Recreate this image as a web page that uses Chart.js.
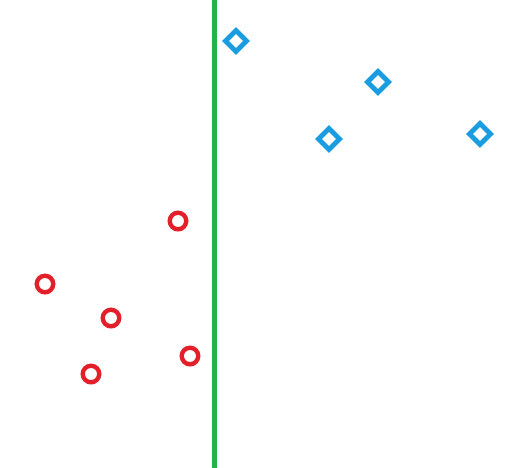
<!DOCTYPE html>
<html>
<head>
<meta charset="utf-8">
<script src="https://cdn.jsdelivr.net/npm/chart.js@4"></script>
<style>
html,body{margin:0;padding:0;background:#fff;}
#wrap{width:518px;height:468px;}
</style>
</head>
<body>
<div id="wrap"><canvas id="c" width="518" height="468"></canvas></div>
<script>
const redX = [45, 111, 91, 178, 190];
const redY = [184, 150, 94, 247, 112];
const blueX = [236, 378, 329, 480];
const blueY = [427, 386, 329, 334];
const lineX = [214.5, 214.5];
const lineY = [0, 468];

const toPts = (xs, ys) => xs.map((x, i) => ({x: x, y: ys[i]}));

new Chart(document.getElementById('c'), {
  type: 'scatter',
  data: {
    datasets: [
      {
        data: toPts(lineX, lineY),
        showLine: true,
        borderColor: '#22b24c',
        borderWidth: 5,
        pointRadius: 0,
        borderCapStyle: 'butt',
        clip: false
      },
      {
        data: toPts(redX, redY),
        pointStyle: 'circle',
        pointRadius: 8.25,
        pointBorderWidth: 4.5,
        pointBorderColor: '#e3202a',
        pointBackgroundColor: 'rgba(0,0,0,0)',
        clip: false
      },
      {
        data: toPts(blueX, blueY),
        pointStyle: 'rectRot',
        pointRadius: 10.5,
        pointBorderWidth: 5,
        pointBorderColor: '#1a9ce0',
        pointBackgroundColor: 'rgba(0,0,0,0)',
        clip: false
      }
    ]
  },
  options: {
    responsive: false,
    animation: false,
    layout: {padding: 0, autoPadding: false},
    plugins: {legend: {display: false}, tooltip: {enabled: false}},
    scales: {
      x: {type: 'linear', min: 0, max: 518, display: false},
      y: {type: 'linear', min: 0, max: 468, display: false}
    }
  }
});
</script>
</body>
</html>
